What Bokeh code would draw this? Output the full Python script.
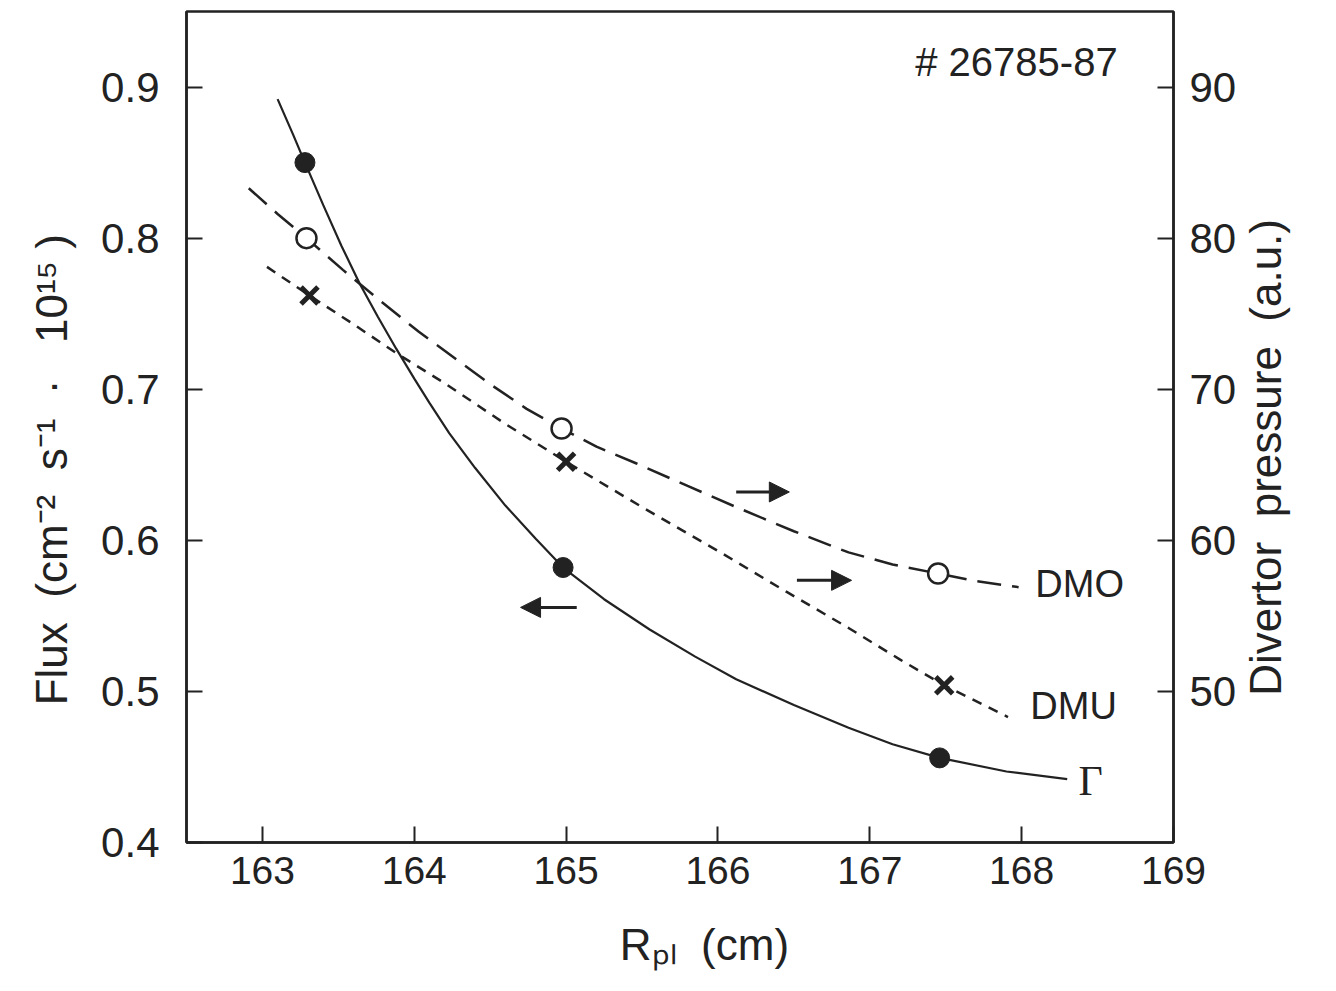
import math
from bokeh.plotting import figure
from bokeh.models import (Range1d, LinearAxis, FixedTicker, Arrow, NormalHead)
from bokeh.core.properties import value
from bokeh.embed import file_html
from bokeh.resources import INLINE

# ---------------- data ----------------
# Gamma (flux, left axis): measured points
gamma_x = [163.28, 164.98, 167.46]
gamma_y = [0.850, 0.582, 0.456]
# Gamma curve
gamma_curve_x = [163.10, 163.20, 163.28, 163.40, 163.52, 163.64, 163.76, 163.88, 164.00,
                 164.10, 164.23, 164.40, 164.60, 164.80, 164.98, 165.25, 165.55, 165.85,
                 166.12, 166.50, 166.86, 167.15, 167.46, 167.90, 168.30]
gamma_curve_y = [0.892, 0.869, 0.850, 0.822, 0.795, 0.770, 0.748, 0.727, 0.707,
                 0.691, 0.671, 0.648, 0.623, 0.601, 0.582, 0.561, 0.541, 0.523,
                 0.508, 0.491, 0.476, 0.465, 0.456, 0.447, 0.442]

# DMO (divertor pressure, right axis)
dmo_x = [163.29, 164.97, 167.45]
dmo_y = [80.0, 67.4, 57.8]
dmo_curve_x = [162.91, 163.10, 163.29, 163.53, 163.77, 164.03, 164.30, 164.52, 164.74,
               164.97, 165.20, 165.46, 165.80, 166.12, 166.50, 166.86, 167.15, 167.45,
               167.70, 167.98]
dmo_curve_y = [83.3, 81.6, 80.0, 77.9, 75.9, 73.8, 71.8, 70.2, 68.7,
               67.4, 66.2, 65.1, 63.6, 62.2, 60.6, 59.2, 58.4, 57.8,
               57.3, 56.9]

# DMU (divertor pressure, right axis)
dmu_x = [163.31, 165.00, 167.49]
dmu_y = [76.2, 65.2, 50.4]
dmu_curve_x = [163.03, 163.31, 163.60, 163.88, 164.20, 164.60, 165.00, 165.50, 166.00,
               166.45, 166.86, 167.20, 167.49, 167.91]
dmu_curve_y = [78.1, 76.2, 74.3, 72.4, 70.4, 67.7, 65.2, 62.2, 59.3,
               56.6, 54.2, 52.1, 50.4, 48.3]

x_ticks = [163, 164, 165, 166, 167, 168, 169]
y_ticks = [0.4, 0.5, 0.6, 0.7, 0.8, 0.9]
y2_ticks = [50, 60, 70, 80, 90]

NB = "\u00a0"
x_title = "Rₚₗ" + NB * 2 + "(cm)"
y_title = ("Flux" + NB * 2 + "(cm⁻²" + NB * 2 + "s⁻¹" + NB * 2 + "·" + NB * 3
           + "10¹⁵" + NB + ")")
y2_title = "Divertor" + NB * 2 + "pressure" + NB * 2 + "(a.u.)"

# arrows: (x_start, x_end, y, axis)
arrows = [
    (165.07, 164.70, 0.5556, "default"),
    (166.12, 166.47, 63.2, "right"),
    (166.52, 166.88, 57.35, "right"),
]

# ---------------- layout ----------------
X0, X1 = 162.5, 169.0
Y0, Y1 = 0.40, 0.95
R0, R1 = 40.0, 95.0
W, H = 1320, 975
FL, FR, FT, FB = 187, 1173, 12, 842   # frame edges in canvas pixels

def dx(px):
    return X0 + (px - FL) * (X1 - X0) / (FR - FL)

def dy(py):
    return Y1 - (py - FT) * (Y1 - Y0) / (FB - FT)

INK = "#222222"
FONT = "Liberation Sans"

p = figure(width=W, height=H, x_range=Range1d(X0, X1), y_range=Range1d(Y0, Y1),
           output_backend="svg", toolbar_location=None,
           min_border_left=FL - 1, min_border_right=W - FR,
           min_border_top=FT - 1, min_border_bottom=H - FB)
p.extra_y_ranges = {"right": Range1d(R0, R1)}
p.xgrid.visible = False
p.ygrid.visible = False
p.outline_line_color = INK
p.outline_line_width = 2.5
p.background_fill_color = "white"
p.border_fill_color = "white"

def style_axis(ax):
    ax.axis_line_color = INK
    ax.axis_line_width = 2.5
    ax.major_tick_in = 16
    ax.major_tick_out = 0
    ax.major_tick_line_width = 2
    ax.major_tick_line_color = INK
    ax.minor_tick_line_color = None
    ax.major_label_text_font = FONT
    ax.major_label_text_font_size = "42px"
    ax.major_label_text_color = INK
    ax.axis_label_text_font = FONT
    ax.axis_label_text_font_size = "44px"
    ax.axis_label_text_font_style = "normal"
    ax.axis_label_text_color = INK

p.xaxis.ticker = FixedTicker(ticks=x_ticks)
p.yaxis.ticker = FixedTicker(ticks=y_ticks)
style_axis(p.xaxis[0])
style_axis(p.yaxis[0])
p.xaxis.major_label_text_font_size = "39px"
p.xaxis.major_label_standoff = 14
p.yaxis.major_label_standoff = 27

p.xaxis.axis_label = NB * 4 + x_title
p.xaxis.axis_label_standoff = 33
p.yaxis.axis_label = y_title + NB * 7
p.yaxis.axis_label_standoff = 22

raxis = LinearAxis(y_range_name="right", ticker=FixedTicker(ticks=y2_ticks))
style_axis(raxis)
raxis.major_label_standoff = 16
p.add_layout(raxis, "right")

# title-only axis on the right, text reading bottom to top
taxis = LinearAxis(y_range_name="right", ticker=FixedTicker(ticks=[]))
style_axis(taxis)
taxis.axis_line_color = None
taxis.major_tick_line_color = None
taxis.major_label_standoff = 0
taxis.axis_label_standoff = 26
props = taxis.properties()
if "axis_label_orientation" in props and "axis_label_align" in props:
    taxis.axis_label_orientation = math.pi / 2
    taxis.axis_label_align = "start"
    taxis.axis_label = NB * 12 + y2_title
else:
    taxis.axis_label = y2_title
p.add_layout(taxis, "right")

# ---------------- curves and points ----------------
p.line(gamma_curve_x, gamma_curve_y, line_color=INK, line_width=2.2)
p.line(dmo_curve_x, dmo_curve_y, line_color=INK, line_width=2.5, line_dash="24 11",
       y_range_name="right")
p.line(dmu_curve_x, dmu_curve_y, line_color=INK, line_width=2.5, line_dash="10 8",
       y_range_name="right")

p.scatter(gamma_x, gamma_y, marker="circle", size=20, fill_color=INK, line_color=INK)
p.scatter(dmo_x, dmo_y, marker="circle", size=20, fill_color="white", line_color=INK,
          line_width=2.5, y_range_name="right")
p.scatter(dmu_x, dmu_y, marker="x", size=24, line_color=INK, line_width=5,
          y_range_name="right")

for xs, xe, yy, rn in arrows:
    p.add_layout(Arrow(end=NormalHead(size=20, fill_color=INK, line_color=INK),
                       x_start=xs, y_start=yy, x_end=xe, y_end=yy,
                       line_color=INK, line_width=3, y_range_name=rn))

# ---------------- in-plot texts ----------------
p.text(x=[dx(915)], y=[dy(62)], text=["# 26785-87"], text_font=value(FONT),
       text_font_size="40px", text_color=INK, text_baseline="middle", text_align="left")
p.text(x=[dx(1035), dx(1030)], y=[dy(584), dy(706)], text=["DMO", "DMU"],
       text_font=value(FONT), text_font_size="38px", text_color=INK,
       text_baseline="middle", text_align="left")
p.text(x=[dx(1078)], y=[dy(781)], text=["Γ"], text_font=value("Liberation Serif"),
       text_font_size="42px", text_color=INK, text_baseline="middle", text_align="left")

open("out.html", "w").write(file_html(p, INLINE))
